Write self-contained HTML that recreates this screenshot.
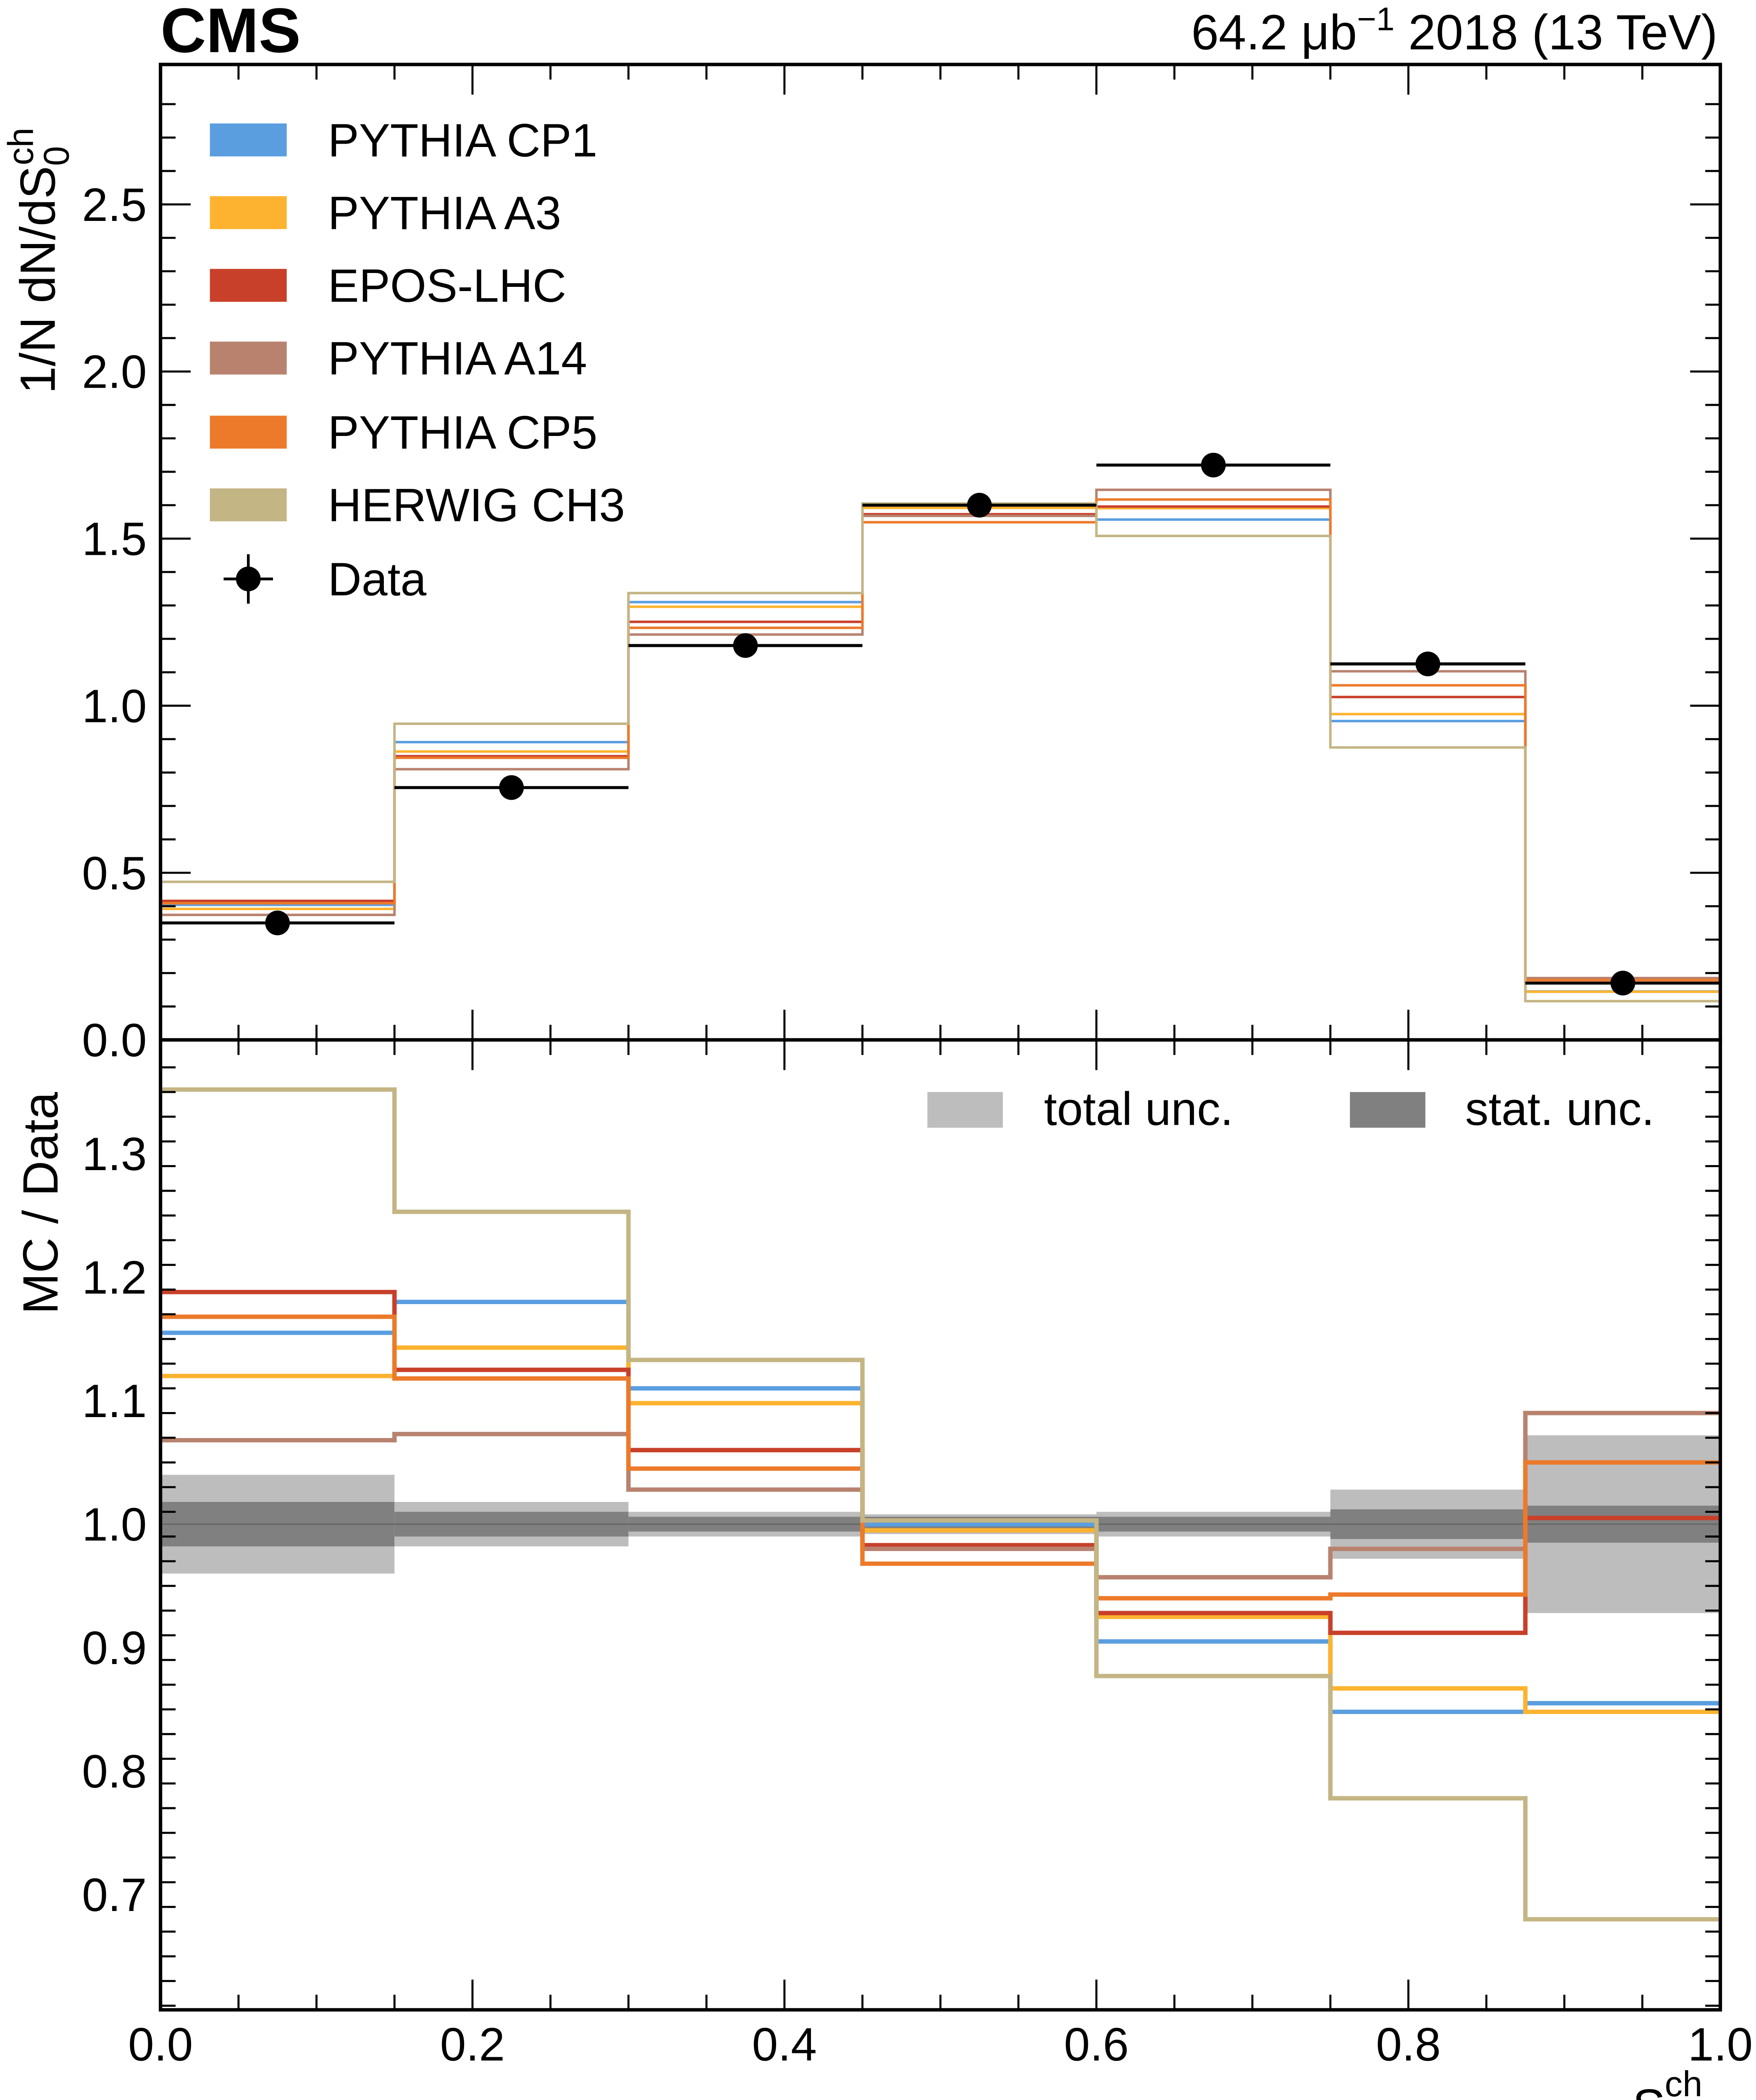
<!DOCTYPE html>
<html><head><meta charset="utf-8"><style>html,body{margin:0;padding:0;background:#fff;width:4181px;height:5125px;overflow:hidden}svg{display:block}text{font-family:"Liberation Sans",sans-serif}</style></head>
<body>
<svg id="chart" width="4181" height="5125" viewBox="0 0 1280 1569" preserveAspectRatio="none" xmlns="http://www.w3.org/2000/svg">
<g id="g"></g>
</svg>
<script>
const binEdges=[0,0.15,0.3,0.45,0.6,0.75,0.875,1.0];
const dataVals=[0.35,0.755,1.18,1.6,1.72,1.125,0.17];
const seriesNames=["PYTHIA CP1","PYTHIA A3","EPOS-LHC","PYTHIA A14","PYTHIA CP5","HERWIG CH3"];
const cp1Vals=[0.404,0.891,1.31,1.6,1.557,0.954,0.145];
const a3Vals=[0.392,0.863,1.296,1.592,1.591,0.975,0.144];
const eposVals=[0.416,0.849,1.251,1.573,1.596,1.026,0.171];
const a14Vals=[0.374,0.81,1.213,1.568,1.646,1.103,0.185];
const cp5Vals=[0.409,0.844,1.233,1.549,1.617,1.061,0.179];
const herwigVals=[0.473,0.946,1.337,1.605,1.508,0.875,0.116];
const cp1Ratio=[1.155,1.18,1.11,1.0,0.905,0.848,0.855];
const a3Ratio=[1.12,1.143,1.098,0.995,0.925,0.867,0.848];
const eposRatio=[1.188,1.125,1.06,0.983,0.928,0.912,1.005];
const a14Ratio=[1.068,1.073,1.028,0.98,0.957,0.98,1.09];
const cp5Ratio=[1.168,1.118,1.045,0.968,0.94,0.943,1.05];
const herwigRatio=[1.352,1.253,1.133,1.003,0.877,0.778,0.68];
const totalUnc=[0.04,0.018,0.01,0.008,0.01,0.028,0.072];
const statUnc=[0.018,0.01,0.006,0.006,0.006,0.012,0.015];
const xTicks=["0.0","0.2","0.4","0.6","0.8","1.0"];
const yTicksUpper=["0.0","0.5","1.0","1.5","2.0","2.5"];
const yTicksLower=["0.7","0.8","0.9","1.0","1.1","1.2","1.3"];

const colors=["#5a9ee0","#fdb32f","#c8402a","#b8826f","#ec7a2a","#c4b584"];
const upperSeries=[cp1Vals,a3Vals,eposVals,a14Vals,cp5Vals,herwigVals];
const lowerSeries=[cp1Ratio,a3Ratio,eposRatio,a14Ratio,cp5Ratio,herwigRatio];
const L=117,R=1254,T1=47,B1=758,T2=758,B2=1465;
const X=v=>L+(R-L)*v;
const Y1=v=>758-243.6*v;
const Y2=v=>1111-900*(v-1);
const g=document.getElementById('g');
const NS="http://www.w3.org/2000/svg";
function mk(tag,attrs,parent){const e=document.createElementNS(NS,tag);for(const k in attrs)e.setAttribute(k,attrs[k]);(parent||g).appendChild(e);return e;}
function txt(s,x,y,size,anchor,extra){const e=mk('text',Object.assign({x:x,y:y,'font-size':size,'text-anchor':anchor||'start'},extra||{}));e.textContent=s;return e;}

for(let i=0;i<7;i++){
  const a=X(binEdges[i]),b=X(binEdges[i+1]);
  let r=mk('rect',{x:a,y:Y2(1+totalUnc[i]),width:b-a,height:Y2(1-totalUnc[i])-Y2(1+totalUnc[i]),fill:'#bdbdbd'});
  
  
  r=mk('rect',{x:a,y:Y2(1+statUnc[i]),width:b-a,height:Y2(1-statUnc[i])-Y2(1+statUnc[i]),fill:'#808080'});
  
  
}
mk('line',{x1:L,x2:R,y1:Y2(1),y2:Y2(1),stroke:'#666','stroke-width':1});

function stepPath(vals,Y){let d='';for(let i=0;i<vals.length;i++){const a=X(binEdges[i]),b=X(binEdges[i+1]),y=Y(vals[i]);d+=(i==0?'M':'L')+a+','+y+'L'+b+','+y;}return d;}
for(let s=0;s<6;s++){
  let p=mk('path',{d:stepPath(upperSeries[s],Y1),fill:'none',stroke:colors[s],'stroke-width':1.8});
  
  
  p=mk('path',{d:stepPath(lowerSeries[s],Y2),fill:'none',stroke:colors[s],'stroke-width':3.2});
  
  
}
for(let i=0;i<7;i++){
  const a=X(binEdges[i]),b=X(binEdges[i+1]),y=Y1(dataVals[i]),c=(a+b)/2;
  mk('line',{x1:a,x2:b,y1:y,y2:y,stroke:'#000','stroke-width':2.2});
  const d=mk('circle',{cx:c,cy:y,r:9,fill:'#000'});
  
  
}
mk('rect',{x:L,y:T1,width:R-L,height:B1-T1,fill:'none',stroke:'#000','stroke-width':2.5});
mk('rect',{x:L,y:T2,width:R-L,height:B2-T2,fill:'none',stroke:'#000','stroke-width':2.5});
for(let k=0;k<=20;k++){
  const v=k*0.05,x=X(v),len=(k%4==0)?22:11;
  for(const [t,b] of [[T1,B1],[T2,B2]]){
    mk('line',{x1:x,x2:x,y1:t,y2:t+len,stroke:'#000','stroke-width':1.5});
    mk('line',{x1:x,x2:x,y1:b,y2:b-len,stroke:'#000','stroke-width':1.5});
  }
}
xTicks.forEach((s,i)=>txt(s,X(i*0.2),1502,34,'middle'));
for(let k=0;k<=28;k++){const y=Y1(k*0.1),len=(k%5==0)?22:11;
  mk('line',{x1:L,x2:L+len,y1:y,y2:y,stroke:'#000','stroke-width':1.5});
  mk('line',{x1:R,x2:R-len,y1:y,y2:y,stroke:'#000','stroke-width':1.5});}
yTicksUpper.forEach((s,i)=>txt(s,107,Y1(i*0.5)+12,34,'end'));
for(let k=0;k<=38;k++){const v=0.61+k*0.02;const y=Y2(v);if(y<T2||y>B2)continue;const maj=Math.abs((v*10)-Math.round(v*10))<1e-6;
  mk('line',{x1:L,x2:L+(maj?22:11),y1:y,y2:y,stroke:'#000','stroke-width':1.5});
  mk('line',{x1:R,x2:R-(maj?22:11),y1:y,y2:y,stroke:'#000','stroke-width':1.5});}
yTicksLower.forEach((s,i)=>txt(s,107,Y2(0.7+i*0.1)+12,34,'end'));
txt('CMS',117,38,46,'start',{'font-weight':'bold'});
const lum=txt('',1252,36,36,'end');lum.innerHTML='64.2 μb<tspan dy="-14" font-size="24">−1</tspan><tspan dy="14"> 2018 (13 TeV)</tspan>';
const yl=txt('',40,287,36,'start',{transform:'rotate(-90 40 287)'});yl.innerHTML='1/N dN/dS<tspan dy="10" font-size="26">0</tspan><tspan dy="-26" dx="-14" font-size="26">ch</tspan>';
txt('MC / Data',42,958,36,'start',{transform:'rotate(-90 42 958)'});
const xl=txt('',1190,1548,36,'start');xl.innerHTML='S<tspan dy="8" font-size="26">0</tspan><tspan dy="-28" dx="-15" font-size="26">ch</tspan>';
const ly=[102,155,208,261,315,368];
for(let s=0;s<6;s++){
  const r=mk('rect',{x:153,y:ly[s]-12,width:56,height:24,fill:colors[s]});
  
  
  txt(seriesNames[s],239,ly[s]+12,34);
}
mk('line',{x1:163,x2:199,y1:422,y2:422,stroke:'#000','stroke-width':2});
mk('line',{x1:181,x2:181,y1:404,y2:440,stroke:'#000','stroke-width':2});
mk('circle',{cx:181,cy:422,r:9,fill:'#000'});
txt('Data',239,434,34);
mk('rect',{x:676,y:796,width:55,height:26,fill:'#bdbdbd'});
txt('total unc.',761,820,34);
mk('rect',{x:984,y:796,width:55,height:26,fill:'#808080'});
txt('stat. unc.',1068,820,34);
</script>
</body></html>
